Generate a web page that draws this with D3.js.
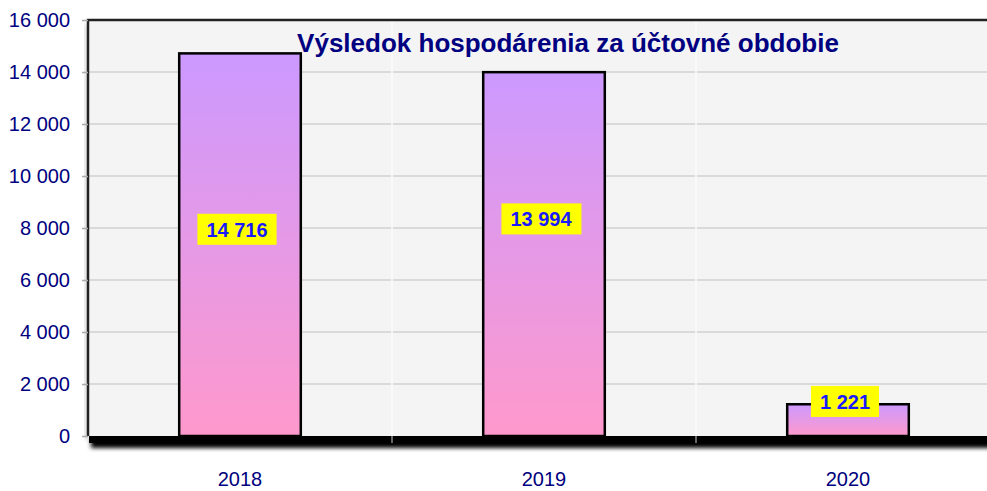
<!DOCTYPE html>
<html>
<head>
<meta charset="utf-8">
<script src="https://cdn.jsdelivr.net/npm/d3@7"></script>
<style>
  body { margin: 0; background: #fff; }
  svg { display: block; font-family: "Liberation Sans", Arial, sans-serif; }
</style>
</head>
<body>
<div id="chart"></div>
<script>
const years = ["2018", "2019", "2020"];
const results = [14716, 13994, 1221];
// value level (in the y units) where each label box sits
const labelAt = [7950, 8350, 1330];
const yTicks = [0, 2000, 4000, 6000, 8000, 10000, 12000, 14000, 16000];
const title = "Výsledok hospodárenia za účtovné obdobie";

const width = 987, height = 491;
const margins = {top: 20, right: -13, bottom: 55, left: 88};

const locale = d3.formatLocale({decimal: ",", thousands: " ", grouping: [3], currency: ["", " €"]});
const fmt = locale.format(",d");

const svg = d3.select("#chart").append("svg")
  .attr("width", width)
  .attr("height", height);

const defs = svg.append("defs");
const grad = defs.append("linearGradient")
  .attr("id", "barGrad")
  .attr("x1", 0).attr("y1", 0).attr("x2", 0).attr("y2", 1);
grad.append("stop").attr("offset", "0%").attr("stop-color", "#cc99ff");
grad.append("stop").attr("offset", "100%").attr("stop-color", "#ff99cc");

const blur = defs.append("filter").attr("id", "shadow")
  .attr("x", "-5%").attr("y", "-100%").attr("width", "110%").attr("height", "300%");
blur.append("feGaussianBlur").attr("stdDeviation", 2.2);

const x = d3.scaleBand()
  .domain(years)
  .range([margins.left, width - margins.right])
  .paddingInner(0).paddingOuter(0);

const y = d3.scaleLinear()
  .domain([0, 16000])
  .range([height - margins.bottom, margins.top]);

const x0 = margins.left, x1 = width - margins.right;
const yTop = y(16000), yBot = y(0);

// floor shadow under the plot
svg.append("rect")
  .attr("x", x0 + 3).attr("y", yBot + 2)
  .attr("width", x1 - x0).attr("height", 10)
  .attr("fill", "#000")
  .attr("filter", "url(#shadow)");
svg.append("rect")
  .attr("x", x0 + 1).attr("y", yBot)
  .attr("width", x1 - x0).attr("height", 7)
  .attr("fill", "#000");

// left soft shadow
svg.append("rect")
  .attr("x", x0 - 3).attr("y", yTop + 4)
  .attr("width", 3).attr("height", yBot - yTop)
  .attr("fill", "#999")
  .attr("opacity", 0.5)
  .attr("filter", "url(#shadow)");

// plot background
svg.append("rect")
  .attr("x", x0).attr("y", yTop)
  .attr("width", x1 - x0).attr("height", yBot - yTop)
  .attr("fill", "#f4f4f4");

// horizontal grid
svg.append("g")
  .selectAll("line")
  .data(yTicks.filter(d => d > 0 && d < 16000))
  .join("line")
  .attr("x1", x0).attr("x2", x1)
  .attr("y1", d => y(d)).attr("y2", d => y(d))
  .attr("stroke", "#d2d2d2")
  .attr("stroke-width", 1.5);

// vertical band separators
svg.append("g")
  .selectAll("line")
  .data(years.slice(1))
  .join("line")
  .attr("x1", d => x(d)).attr("x2", d => x(d))
  .attr("y1", yTop).attr("y2", yBot)
  .attr("stroke", "#fbfbfb")
  .attr("stroke-width", 1.5);

// frame top + left
svg.append("path")
  .attr("d", `M${x0},${yBot} V${yTop} H${x1}`)
  .attr("fill", "none")
  .attr("stroke", "#222")
  .attr("stroke-width", 2.5);

// small ticks at band borders on the floor
svg.append("g")
  .selectAll("line")
  .data(years.slice(1))
  .join("line")
  .attr("x1", d => x(d)).attr("x2", d => x(d))
  .attr("y1", yBot).attr("y2", yBot + 7)
  .attr("stroke", "#888")
  .attr("stroke-width", 1.5);

// bars
const barW = x.bandwidth() * 0.4;
svg.append("g")
  .selectAll("rect")
  .data(results)
  .join("rect")
  .attr("x", (d, i) => x(years[i]) + x.bandwidth() / 2 - barW / 2)
  .attr("y", d => y(d))
  .attr("width", barW)
  .attr("height", d => y(0) - y(d))
  .attr("fill", "url(#barGrad)")
  .attr("stroke", "#000")
  .attr("stroke-width", 2.5);

// value labels
const lab = svg.append("g")
  .selectAll("g")
  .data(results)
  .join("g")
  .attr("transform", (d, i) => `translate(${x(years[i]) + x.bandwidth() / 2 - 3},${y(labelAt[i])})`);

lab.append("text")
  .attr("text-anchor", "middle")
  .attr("dy", "0.36em")
  .attr("font-size", 20)
  .attr("font-weight", "bold")
  .attr("fill", "#1a1aff")
  .text(d => fmt(d))
  .each(function() {
    const bb = this.getBBox();
    d3.select(this.parentNode).insert("rect", "text")
      .attr("x", bb.x - 9).attr("y", -15.5)
      .attr("width", bb.width + 18).attr("height", 31)
      .attr("fill", "#ffff00");
  });

// y axis
const yAxis = svg.append("g")
  .attr("transform", `translate(${x0},0)`)
  .call(d3.axisLeft(y).tickValues(yTicks).tickFormat(fmt).tickSize(6).tickPadding(12));
yAxis.select(".domain").remove();
yAxis.selectAll("line").attr("stroke", "#aaa").attr("stroke-width", 1.5);
yAxis.selectAll("text")
  .attr("font-size", 20)
  .attr("font-family", "Liberation Sans, Arial, sans-serif")
  .attr("fill", "#000080");

// x axis labels
const xAxis = svg.append("g")
  .attr("transform", `translate(0,${yBot})`)
  .call(d3.axisBottom(x).tickSize(0).tickPadding(36));
xAxis.select(".domain").remove();
xAxis.selectAll("text")
  .attr("font-size", 20)
  .attr("font-family", "Liberation Sans, Arial, sans-serif")
  .attr("fill", "#000080");

// title
svg.append("text")
  .attr("x", 568)
  .attr("y", 52)
  .attr("text-anchor", "middle")
  .attr("font-size", 26)
  .attr("font-weight", "bold")
  .attr("fill", "#000080")
  .text(title);
</script>
</body>
</html>
